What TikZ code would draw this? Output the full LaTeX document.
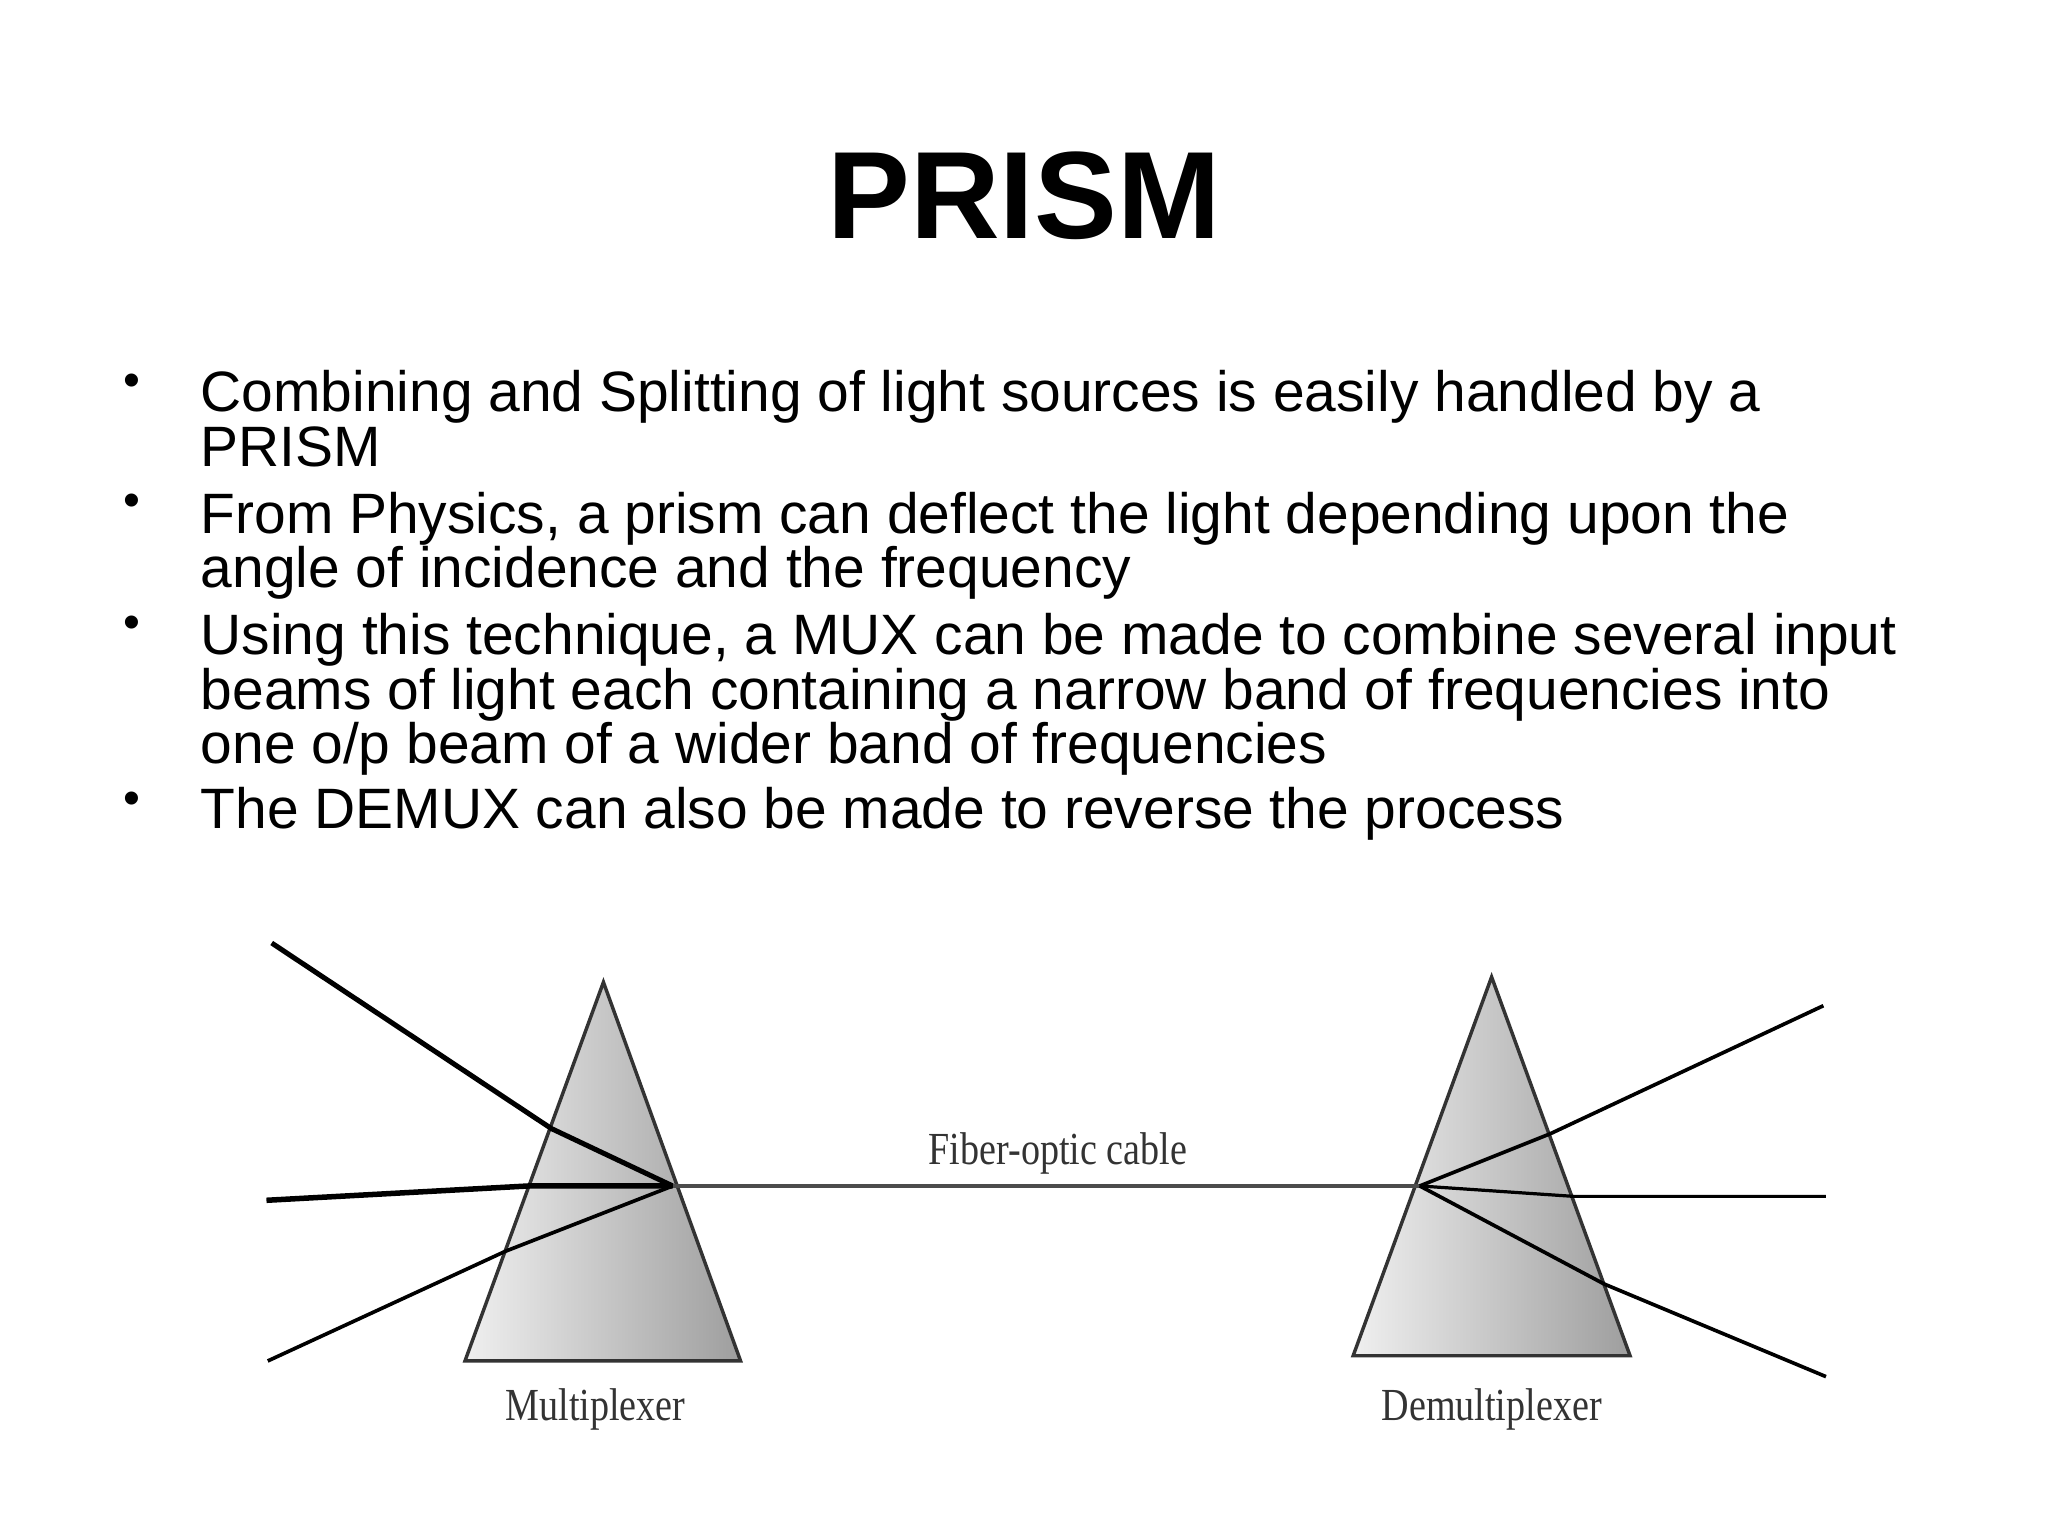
\documentclass[tikz,border=0pt]{standalone}
\usepackage{fontspec}
\setmainfont{Liberation Sans}
\newfontfamily\labelfont{Liberation Serif}
\tikzset{
  titletext/.style={inner sep=0,font=\fontsize{27.05pt}{30pt}\selectfont\bfseries},
  bodytext/.style={inner sep=0,anchor=north west,align=left,font=\fontsize{12.4pt}{11.9pt}\selectfont},
  bullettext/.style={inner sep=0,font=\fontsize{10.5pt}{12pt}\selectfont},
  labeltext/.style={inner sep=0,text=black!80,transform shape,xscale=.83,font=\fontsize{10pt}{12pt}\labelfont},
  prism/.style={draw=black!80,line width=.75pt,left color=black!6,right color=black!38},
  ray/.style={line width=.8pt,black},
  cable/.style={line width=.8pt,black!70}
}
\begin{document}
\begin{tikzpicture}
\useasboundingbox (0,0) rectangle (15.68,11.76);
\node at (7.84,10.26) [titletext] (Title) {PRISM};
\node at (1.01,8.81) [bullettext] (Bullet1) {•};
\node at (1.01,7.89) [bullettext] (Bullet2) {•};
\node at (1.01,6.96) [bullettext] (Bullet3) {•};
\node at (1.01,5.61) [bullettext] (Bullet4) {•};
\node at (1.53,8.93) [bodytext] (Text1) {Combining and Splitting of light sources is easily handled by a\\PRISM};
\node at (1.53,8.00) [bodytext] (Text2) {From Physics, a prism can deflect the light depending upon the\\angle of incidence and the frequency};
\node at (1.53,7.07) [bodytext] (Text3) {Using this technique, a MUX can be made to combine several input\\beams of light each containing a narrow band of frequencies into\\one o/p beam of a wider band of frequencies};
\node at (1.53,5.74) [bodytext] (Text4) {The DEMUX can also be made to reverse the process};
% prisms
\coordinate (Mux1) at (4.62,4.24);
\coordinate (Mux2) at (3.56,1.34);
\coordinate (Mux3) at (5.67,1.34);
\coordinate (Demux1) at (11.42,4.28);
\coordinate (Demux2) at (10.36,1.38);
\coordinate (Demux3) at (12.48,1.38);
\draw [prism] (Mux1) -- (Mux2) -- (Mux3) -- cycle;
\draw [prism] (Demux1) -- (Demux2) -- (Demux3) -- cycle;
% rays
\coordinate (Join) at (5.15,2.68);
\coordinate (Split) at (10.87,2.68);
\coordinate (In1) at (2.08,4.54);
\coordinate (In2) at (2.04,2.57);
\coordinate (In3) at (2.05,1.34);
\coordinate (BendIn1) at (4.22,3.12);
\coordinate (BendIn2) at (4.05,2.68);
\coordinate (BendIn3) at (3.87,2.18);
\coordinate (BendOut1) at (11.87,3.08);
\coordinate (BendOut2) at (12.05,2.60);
\coordinate (BendOut3) at (12.28,1.93);
\coordinate (Out1) at (13.96,4.06);
\coordinate (Out2) at (13.98,2.60);
\coordinate (Out3) at (13.98,1.22);
\draw [ray,line width=1.1pt] (In1) -- (BendIn1) -- (Join);
\draw [ray,line width=1.2pt] (In2) -- (BendIn2) -- (Join);
\draw [ray] (In3) -- (BendIn3) -- (Join);
\draw [cable] (Join) -- (Split);
\draw [ray] (Split) -- (BendOut1) -- (Out1);
\draw [ray,line width=.7pt] (Split) -- (BendOut2) -- (Out2);
\draw [ray] (Split) -- (BendOut3) -- (Out3);
\node at (4.56,.97) [labeltext] (Label1) {Multiplexer};
\node at (11.42,.97) [labeltext] (Label2) {Demultiplexer};
\node at (8.10,2.93) [labeltext] (Label3) {Fiber-optic cable};
\end{tikzpicture}
\end{document}
